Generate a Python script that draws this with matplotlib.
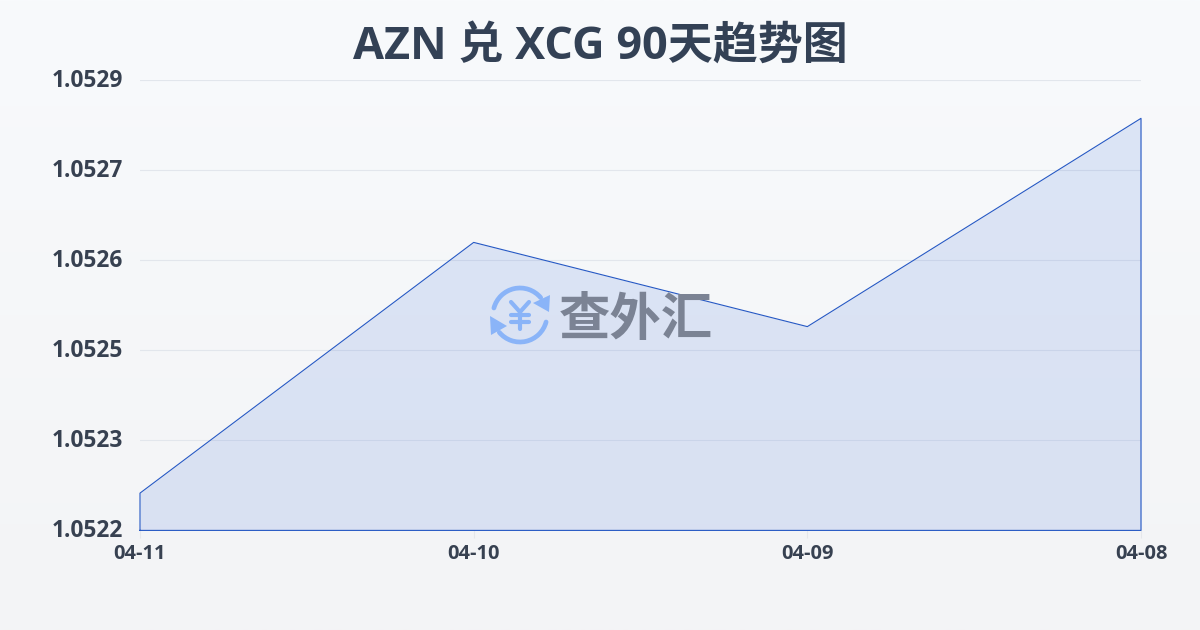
import matplotlib
matplotlib.use('Agg')
import matplotlib.pyplot as plt
from matplotlib.patches import Arc, Polygon
from matplotlib.transforms import ScaledTranslation
import numpy as np

plt.rcParams['font.family'] = ['Open Sans', 'Noto Sans CJK SC', 'DejaVu Sans']

# data, listed left to right as in the source chart
dates = ['04-11', '04-10', '04-09', '04-08']
rates = [1.052238, 1.052628, 1.052497, 1.052821]
y_ticks = [1.05218, 1.05232, 1.05246, 1.05260, 1.05274, 1.05288]
y_labels = ['1.0522', '1.0523', '1.0525', '1.0526', '1.0527', '1.0529']
title = 'AZN 兑 XCG 90天趋势图'

W, H = 1200, 630
fig = plt.figure(figsize=(W / 100, H / 100), dpi=100)

# page background gradient
bg = fig.add_axes([0, 0, 1, 1], zorder=0)
bg.imshow(np.linspace(0, 1, 256).reshape(-1, 1),
          cmap=matplotlib.colors.LinearSegmentedColormap.from_list('bg', ['#f8fafc', '#f3f4f6']),
          aspect='auto', extent=[0, 1, 0, 1])
bg.axis('off')

ax = fig.add_axes([140 / W, 1 - 530.4 / H, 1001 / W, 450 / H], zorder=1)
ax.patch.set_alpha(0)
x = np.arange(len(dates))
ax.set_xlim(0, len(dates) - 1)
ax.set_ylim(y_ticks[0], y_ticks[-1])

ax.fill_between(x, rates, y_ticks[0], color='#2a5fd8', alpha=0.13, lw=0, zorder=2)
ax.plot(np.r_[x[0], x, x[-1], x[0]], np.r_[y_ticks[0], rates, y_ticks[0], y_ticks[0]],
        color='#2558c4', lw=0.8, clip_on=False, zorder=3)

ax.set_yticks(y_ticks)
ax.set_yticklabels(y_labels, fontsize=16.4, fontweight='bold', color='#374151')
ax.set_xticks(x)
ax.set_xticklabels(dates, fontsize=14.4, fontweight='bold', color='#374151')
ax.grid(axis='y', color='#e2e6ec', lw=0.8, zorder=1)
ax.tick_params(axis='y', length=0, pad=12.5)
ax.tick_params(axis='x', length=6, width=0.8, color='#e5e7eb', pad=3.5)
for s in ax.spines.values():
    s.set_visible(False)
# y labels sit a little above their grid lines
nudge = ScaledTranslation(0, 2 / 72, fig.dpi_scale_trans)
for lab in ax.get_yticklabels():
    lab.set_transform(lab.get_transform() + nudge)

fig.text(600 / W, 1 - 47 / H, title, ha='center', va='center',
         fontsize=32.4, fontweight='bold', color='#334155')

# watermark logo, drawn in pixel coordinates
logo = fig.add_axes([0, 0, 1, 1], zorder=2)
logo.set_xlim(0, W)
logo.set_ylim(H, 0)
logo.axis('off')
blue = '#8ab4f8'
cx, cy = 520, 315
logo.add_patch(Arc((cx, cy), 54, 54, theta1=195, theta2=320, color=blue, lw=3.4, capstyle='round'))
logo.add_patch(Arc((cx, cy), 54, 54, theta1=15, theta2=140, color=blue, lw=3.4, capstyle='round'))
logo.add_patch(Polygon([[550, 295], [549, 312], [533, 303]], color=blue, lw=0))
logo.add_patch(Polygon([[490, 316], [507, 326], [491, 335]], color=blue, lw=0))
# yen sign as strokes, the font glyph is too small and thin
yen_style = dict(color=blue, lw=3, solid_capstyle='round', solid_joinstyle='round')
logo.plot([511, 520, 529], [302, 312, 302], **yen_style)
logo.plot([520, 520], [312, 329], **yen_style)
logo.plot([511, 529], [315, 315], **yen_style)
logo.plot([511, 529], [322, 322], **yen_style)
logo.text(636, 319, '查外汇', ha='center', va='center', fontsize=37, fontweight='heavy',
          family=['Noto Sans CJK SC'], color='#7b8394')

fig.savefig('out.png', dpi=100)
plt.close(fig)
